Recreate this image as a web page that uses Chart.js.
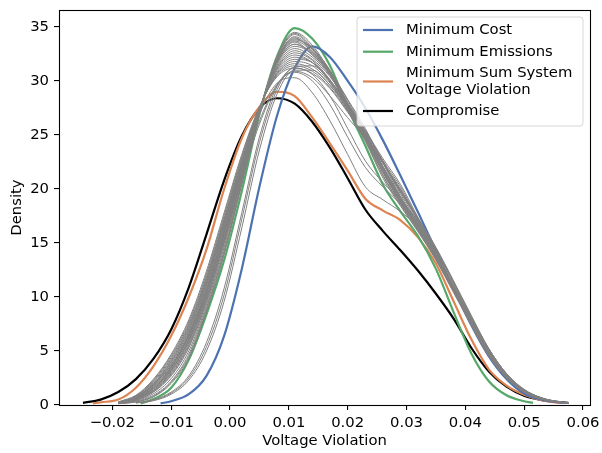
<!DOCTYPE html>
<html>
<head>
<meta charset="utf-8">
<script src="https://cdn.jsdelivr.net/npm/chart.js@4.4.1/dist/chart.umd.min.js"></script>
<style>
  html, body { margin: 0; padding: 0; background: #ffffff; }
  #wrap { width: 602px; height: 453px; }
</style>
</head>
<body>
<div id="wrap"><canvas id="c" width="602" height="453"></canvas></div>
<script>
// ---------- DATA ----------
const xTicks = [-0.02, -0.01, 0.00, 0.01, 0.02, 0.03, 0.04, 0.05, 0.06];
const yTicks = [0, 5, 10, 15, 20, 25, 30, 35];
const xTitle = "Voltage Violation";
const yTitle = "Density";
const seriesNames = ["Minimum Cost", "Minimum Emissions", "Minimum Sum System\nVoltage Violation", "Compromise"];

// Minimum Cost (blue)
const costX = [-0.0118, -0.010, -0.007, -0.004, -0.001, 0.002, 0.005, 0.008, 0.011, 0.014, 0.017, 0.020, 0.023, 0.026, 0.029, 0.032, 0.035, 0.038, 0.041, 0.044, 0.047, 0.050, 0.053, 0.0565];
const costY = [0.15, 0.35, 1.0, 2.7, 6.4, 12.6, 20.2, 26.8, 31.2, 33.2, 32.2, 30.0, 27.5, 24.5, 21.2, 17.8, 14.3, 10.8, 7.4, 4.5, 2.4, 1.05, 0.5, 0.2];

// Minimum Emissions (green)
const emisX = [-0.0152, -0.013, -0.010, -0.007, -0.004, -0.001, 0.002, 0.005, 0.008, 0.011, 0.014, 0.017, 0.020, 0.023, 0.026, 0.029, 0.032, 0.035, 0.038, 0.041, 0.044, 0.047, 0.050, 0.0515];
const emisY = [0.15, 0.55, 1.6, 4.2, 8.4, 13.4, 19.8, 26.9, 32.3, 34.9, 33.9, 31.4, 27.5, 24.0, 20.4, 17.9, 15.6, 12.6, 8.6, 4.8, 2.2, 0.9, 0.35, 0.2];

// Minimum Sum System Voltage Violation (orange)
const sumX = [-0.0233, -0.022, -0.019, -0.016, -0.013, -0.010, -0.007, -0.004, -0.001, 0.002, 0.005, 0.008, 0.011, 0.014, 0.017, 0.020, 0.023, 0.026, 0.029, 0.032, 0.035, 0.038, 0.041, 0.044, 0.047, 0.050, 0.053, 0.056];
const sumY = [0.15, 0.25, 0.5, 1.6, 3.6, 6.4, 10.0, 14.4, 20.0, 24.7, 27.6, 29.0, 28.6, 26.6, 24.2, 21.7, 19.1, 18.0, 17.1, 15.5, 13.1, 9.6, 6.1, 3.3, 1.8, 0.95, 0.45, 0.2];

// Compromise (black)
const compX = [-0.025, -0.022, -0.019, -0.016, -0.013, -0.010, -0.007, -0.004, -0.001, 0.002, 0.005, 0.008, 0.011, 0.014, 0.017, 0.020, 0.023, 0.026, 0.029, 0.032, 0.035, 0.038, 0.041, 0.044, 0.047, 0.050, 0.053, 0.0575];
const compY = [0.2, 0.5, 1.2, 2.4, 4.3, 7.0, 10.9, 15.8, 20.8, 24.9, 27.5, 28.4, 27.9, 26.2, 23.8, 21.0, 18.1, 16.1, 14.3, 12.4, 10.3, 8.0, 5.3, 3.1, 1.7, 0.85, 0.45, 0.2];

// Other solutions (gray), shared x grid
const grayX = [-0.019, -0.016, -0.013, -0.010, -0.007, -0.004, -0.001, 0.002, 0.005, 0.008, 0.011, 0.014, 0.017, 0.020, 0.023, 0.026, 0.029, 0.032, 0.035, 0.038, 0.041, 0.044, 0.047, 0.050, 0.053, 0.056, 0.0575];
const grayA0 = [0.12, 0.28, 0.75, 2.0, 4.3, 8.6, 13.9, 20.4, 27.0, 32.3, 34.5, 33.3, 30.8, 27.3, 24.4, 21.0, 18.4, 16.0, 13.4, 10.4, 7.4, 4.6, 2.5, 1.2, 0.55, 0.25, 0.15];
const grayA1 = [0.15, 0.35, 0.9, 2.2, 4.7, 9.0, 14.3, 20.6, 27.0, 32.1, 34.3, 33.0, 31.0, 27.8, 24.9, 21.6, 18.8, 16.3, 13.6, 10.6, 7.6, 4.7, 2.6, 1.25, 0.6, 0.26, 0.15];
const grayA2 = [0.17, 0.45, 1.2, 2.7, 5.3, 9.5, 14.9, 21.0, 27.2, 32.0, 34.0, 32.7, 30.9, 28.2, 25.3, 22.0, 19.0, 16.5, 13.8, 10.8, 7.7, 4.8, 2.6, 1.3, 0.6, 0.27, 0.16];
const grayA3 = [0.18, 0.5, 1.3, 2.9, 5.6, 9.8, 15.2, 21.2, 27.2, 31.9, 33.8, 33.0, 30.6, 27.4, 24.5, 21.2, 18.5, 16.1, 13.5, 10.5, 7.5, 4.7, 2.5, 1.2, 0.55, 0.25, 0.15];
const grayA4 = [0.2, 0.55, 1.4, 3.1, 5.9, 10.2, 15.6, 21.5, 27.3, 31.8, 33.6, 32.4, 30.7, 28.0, 25.2, 22.1, 19.2, 16.7, 14.0, 11.0, 7.9, 4.9, 2.7, 1.3, 0.6, 0.27, 0.16];
const grayA5 = [0.2, 0.6, 1.6, 3.4, 6.3, 10.6, 16.0, 21.8, 27.3, 31.6, 33.2, 32.5, 30.6, 27.6, 24.7, 21.5, 18.7, 16.2, 13.6, 10.6, 7.6, 4.7, 2.6, 1.25, 0.6, 0.26, 0.15];
const grayA6 = [0.22, 0.65, 1.8, 3.6, 6.6, 11.0, 16.4, 22.1, 27.4, 31.3, 32.8, 32.0, 30.4, 27.9, 25.4, 22.5, 19.5, 16.9, 14.2, 11.1, 8.0, 5.0, 2.8, 1.35, 0.62, 0.28, 0.16];
const grayA7 = [0.22, 0.7, 1.9, 3.9, 6.9, 11.3, 16.7, 22.3, 27.4, 31.1, 32.4, 31.7, 29.9, 27.3, 24.6, 21.6, 18.8, 16.4, 13.7, 10.7, 7.7, 4.8, 2.6, 1.3, 0.6, 0.27, 0.16];
const grayA8 = [0.25, 0.75, 2.0, 4.1, 7.2, 11.6, 17.0, 22.5, 27.4, 30.8, 32.0, 31.7, 30.1, 27.7, 25.3, 22.6, 19.7, 17.1, 14.4, 11.3, 8.1, 5.1, 2.8, 1.4, 0.64, 0.28, 0.16];
const grayA9 = [0.25, 0.8, 2.2, 4.4, 7.5, 11.9, 17.3, 22.8, 27.5, 30.6, 31.6, 31.1, 29.6, 27.3, 25.0, 22.4, 19.7, 17.2, 14.5, 11.4, 8.2, 5.2, 2.9, 1.4, 0.65, 0.29, 0.17];
const grayA10 = [0.28, 0.9, 2.4, 4.7, 7.9, 12.4, 17.8, 23.2, 27.6, 30.4, 31.2, 30.7, 29.3, 27.1, 24.8, 22.4, 19.9, 17.3, 14.6, 11.5, 8.3, 5.2, 2.9, 1.45, 0.66, 0.3, 0.17];
const grayA11 = [0.2, 0.55, 1.5, 3.2, 6.1, 10.4, 15.8, 21.6, 27.3, 31.7, 33.4, 32.6, 30.9, 28.3, 25.6, 22.4, 19.3, 16.8, 14.1, 11.0, 7.9, 4.9, 2.7, 1.3, 0.6, 0.27, 0.16];
const grayA12 = [0.13, 0.3, 0.8, 2.1, 4.5, 8.8, 14.1, 20.5, 27.0, 32.2, 34.4, 33.1, 30.9, 27.5, 24.6, 21.3, 18.6, 16.1, 13.5, 10.5, 7.5, 4.6, 2.5, 1.2, 0.55, 0.25, 0.15];
const grayA13 = [0.16, 0.4, 1.05, 2.45, 5.0, 9.25, 14.6, 20.8, 27.1, 32.0, 34.1, 32.9, 30.9, 28.0, 25.1, 21.8, 18.9, 16.4, 13.7, 10.7, 7.6, 4.7, 2.6, 1.25, 0.6, 0.26, 0.15];
const grayA14 = [0.19, 0.52, 1.35, 3.0, 5.75, 10.0, 15.4, 21.35, 27.25, 31.85, 33.7, 32.7, 30.6, 27.7, 24.8, 21.6, 18.8, 16.4, 13.7, 10.7, 7.7, 4.8, 2.6, 1.25, 0.58, 0.26, 0.15];
const grayA15 = [0.2, 0.58, 1.5, 3.25, 6.1, 10.4, 15.8, 21.65, 27.3, 31.7, 33.4, 32.4, 30.6, 27.8, 25.0, 21.8, 18.9, 16.4, 13.8, 10.8, 7.7, 4.8, 2.65, 1.28, 0.6, 0.27, 0.16];
const grayA16 = [0.21, 0.62, 1.7, 3.5, 6.45, 10.8, 16.2, 21.95, 27.35, 31.45, 33.0, 32.2, 30.5, 27.8, 25.0, 22.0, 19.1, 16.6, 13.9, 10.9, 7.8, 4.9, 2.7, 1.3, 0.61, 0.27, 0.16];
const grayA17 = [0.22, 0.68, 1.85, 3.75, 6.75, 11.15, 16.55, 22.2, 27.4, 31.2, 32.6, 31.9, 30.1, 27.6, 25.0, 22.0, 19.1, 16.6, 13.9, 10.9, 7.8, 4.9, 2.7, 1.3, 0.61, 0.27, 0.16];
const grayA18 = [0.24, 0.72, 1.95, 4.0, 7.05, 11.45, 16.85, 22.4, 27.4, 30.95, 32.2, 31.7, 30.0, 27.5, 24.9, 22.1, 19.2, 16.7, 14.0, 11.0, 7.9, 5.0, 2.7, 1.35, 0.62, 0.27, 0.16];
const grayA19 = [0.25, 0.78, 2.1, 4.25, 7.35, 11.75, 17.15, 22.65, 27.45, 30.7, 31.8, 31.4, 29.8, 27.5, 25.1, 22.5, 19.7, 17.1, 14.4, 11.3, 8.1, 5.1, 2.8, 1.4, 0.64, 0.28, 0.16];
const grayA20 = [0.27, 0.85, 2.3, 4.55, 7.7, 12.15, 17.55, 23.0, 27.55, 30.5, 31.4, 30.9, 29.4, 27.2, 24.9, 22.4, 19.8, 17.2, 14.5, 11.4, 8.2, 5.2, 2.9, 1.42, 0.65, 0.29, 0.17];
const grayA21 = [0.17, 0.47, 1.25, 2.8, 5.45, 9.65, 15.05, 21.1, 27.2, 31.95, 33.9, 32.9, 30.7, 27.8, 24.9, 21.6, 18.8, 16.3, 13.6, 10.6, 7.6, 4.7, 2.55, 1.25, 0.58, 0.26, 0.15];
const grayB1 = [0.2, 0.6, 1.7, 3.5, 6.4, 10.6, 16.2, 22.0, 26.9, 29.8, 30.3, 28.9, 26.3, 23.2, 20.2, 19.0, 17.9, 16.4, 13.9, 10.9, 7.7, 4.8, 2.6, 1.3, 0.6, 0.26, 0.15];
const grayB2 = [0.22, 0.7, 1.9, 3.7, 6.5, 10.6, 16.0, 21.5, 26.3, 29.7, 30.8, 30.0, 27.8, 24.8, 22.0, 20.2, 18.6, 16.8, 14.0, 10.9, 7.7, 4.8, 2.6, 1.3, 0.6, 0.26, 0.15];
const grayB3 = [0.2, 0.6, 1.6, 3.3, 6.0, 10.0, 15.4, 21.0, 26.0, 29.6, 31.2, 30.6, 28.6, 25.6, 22.6, 20.6, 18.9, 17.0, 14.1, 11.0, 7.8, 4.9, 2.7, 1.3, 0.6, 0.26, 0.15];
const grayC1 = [null, 0.2, 0.45, 1.1, 2.5, 5.4, 10.2, 17.2, 24.3, 29.2, 31.3, 31.4, 30.0, 27.8, 25.4, 22.6, 20.2, 17.1, 14.0, 10.7, 7.4, 4.5, 2.5, 1.2, 0.55, 0.25, 0.15];
const grayC2 = [null, 0.18, 0.4, 1.0, 2.3, 5.0, 9.6, 16.4, 23.6, 28.8, 31.0, 31.0, 29.6, 27.6, 25.4, 22.8, 20.4, 17.3, 14.2, 10.9, 7.6, 4.6, 2.5, 1.2, 0.55, 0.25, 0.15];
const grayC3 = [null, 0.22, 0.5, 1.2, 2.7, 5.8, 10.8, 17.8, 24.8, 29.5, 30.9, 30.3, 28.6, 26.6, 24.7, 22.4, 20.0, 17.0, 14.0, 10.8, 7.6, 4.6, 2.5, 1.2, 0.55, 0.25, 0.15];
const grayCurves = [grayA0, grayA1, grayA2, grayA3, grayA4, grayA5, grayA6, grayA7, grayA8, grayA9, grayA10, grayA11,
  grayA12, grayA13, grayA14, grayA15, grayA16, grayA17, grayA18, grayA19, grayA20, grayA21,
  grayB1, grayB2, grayB3, grayC1, grayC2, grayC3];

// ---------- CHART ----------
const FONT = "'DejaVu Sans', 'Liberation Sans', sans-serif";
const FS = 14.8;
const colors = ["#4c72b0", "#55a868", "#dd8452", "#000000"];

function pts(xs, ys) {
  const out = [];
  for (let i = 0; i < xs.length; i++) if (ys[i] !== null) out.push({ x: xs[i], y: ys[i] });
  return out;
}

const datasets = [];
grayCurves.forEach(g => datasets.push({
  data: pts(grayX, g), borderColor: "#808080", borderWidth: 1, pointRadius: 0,
  cubicInterpolationMode: "monotone", fill: false
}));
[[costX, costY], [emisX, emisY], [sumX, sumY], [compX, compY]].forEach((p, i) => datasets.push({
  label: seriesNames[i], data: pts(p[0], p[1]), borderColor: colors[i], borderWidth: 2.2,
  pointRadius: 0, cubicInterpolationMode: "monotone", fill: false
}));

const framePlugin = {
  id: "frameAndLegend",
  afterDraw(chart) {
    const ctx = chart.ctx, a = chart.chartArea;
    ctx.save();
    ctx.strokeStyle = "#000";
    ctx.lineWidth = 1.1;
    ctx.strokeRect(Math.round(a.left) + 0.5, Math.round(a.top) + 0.5, Math.round(a.right - a.left), Math.round(a.bottom - a.top));
    // legend
    const lx = 357, ly = 17, lw = 226, lh = 109, r = 3;
    ctx.beginPath();
    ctx.moveTo(lx + r, ly);
    ctx.lineTo(lx + lw - r, ly); ctx.quadraticCurveTo(lx + lw, ly, lx + lw, ly + r);
    ctx.lineTo(lx + lw, ly + lh - r); ctx.quadraticCurveTo(lx + lw, ly + lh, lx + lw - r, ly + lh);
    ctx.lineTo(lx + r, ly + lh); ctx.quadraticCurveTo(lx, ly + lh, lx, ly + lh - r);
    ctx.lineTo(lx, ly + r); ctx.quadraticCurveTo(lx, ly, lx + r, ly);
    ctx.closePath();
    ctx.fillStyle = "rgba(255,255,255,0.8)";
    ctx.fill();
    ctx.strokeStyle = "rgba(204,204,204,0.8)";
    ctx.lineWidth = 1;
    ctx.stroke();
    const rows = [
      { lineY: 30, texts: [[seriesNames[0], 30]] },
      { lineY: 51.7, texts: [[seriesNames[1], 51.7]] },
      { lineY: 81.5, texts: seriesNames[2].split("\n").map((t, k) => [t, 73 + k * 16.8]) },
      { lineY: 111, texts: [[seriesNames[3], 111]] }
    ];
    ctx.font = FS + "px " + FONT;
    ctx.textBaseline = "middle";
    ctx.textAlign = "left";
    rows.forEach((row, i) => {
      ctx.beginPath();
      ctx.strokeStyle = colors[i];
      ctx.lineWidth = 2.2;
      ctx.moveTo(363, row.lineY); ctx.lineTo(393, row.lineY);
      ctx.stroke();
      ctx.fillStyle = "#000";
      row.texts.forEach(t => ctx.fillText(t[0], 406, t[1]));
    });
    ctx.restore();
  }
};

new Chart(document.getElementById("c"), {
  type: "line",
  data: { datasets },
  plugins: [framePlugin],
  options: {
    responsive: false,
    animation: false,
    devicePixelRatio: 1,
    layout: { padding: { left: 0, right: 12, top: 10, bottom: 0 } },
    plugins: { legend: { display: false }, tooltip: { enabled: false } },
    scales: {
      x: {
        type: "linear",
        min: -0.02907, max: 0.06119,
        afterBuildTicks: s => { s.ticks = xTicks.map(v => ({ value: v })); },
        afterFit: s => { s.height = 48; s.paddingLeft = 0; s.paddingRight = 0; },
        grid: { display: true, drawOnChartArea: false, drawTicks: true, tickLength: 5, color: "#000", lineWidth: 1.1 },
        border: { display: false },
        ticks: {
          autoSkip: false, maxRotation: 0, padding: 4, color: "#000",
          font: { family: FONT, size: FS },
          callback: v => (v < -1e-9 ? "\u2212" : "") + Math.abs(v).toFixed(2)
        },
        title: { display: true, text: xTitle, color: "#000", font: { family: FONT, size: FS }, padding: { top: 0, bottom: 3 } }
      },
      y: {
        type: "linear",
        min: 0, max: 36.57,
        afterBuildTicks: s => { s.ticks = yTicks.map(v => ({ value: v })); },
        afterFit: s => { s.width = 59; s.paddingTop = 0; s.paddingBottom = 0; },
        grid: { display: true, drawOnChartArea: false, drawTicks: true, tickLength: 5, color: "#000", lineWidth: 1.1 },
        border: { display: false },
        ticks: {
          autoSkip: false, padding: 5, color: "#000",
          font: { family: FONT, size: FS },
          callback: v => String(v)
        },
        title: { display: true, text: yTitle, color: "#000", font: { family: FONT, size: FS }, padding: { top: 8, bottom: 0 } }
      }
    }
  }
});
</script>
</body>
</html>
